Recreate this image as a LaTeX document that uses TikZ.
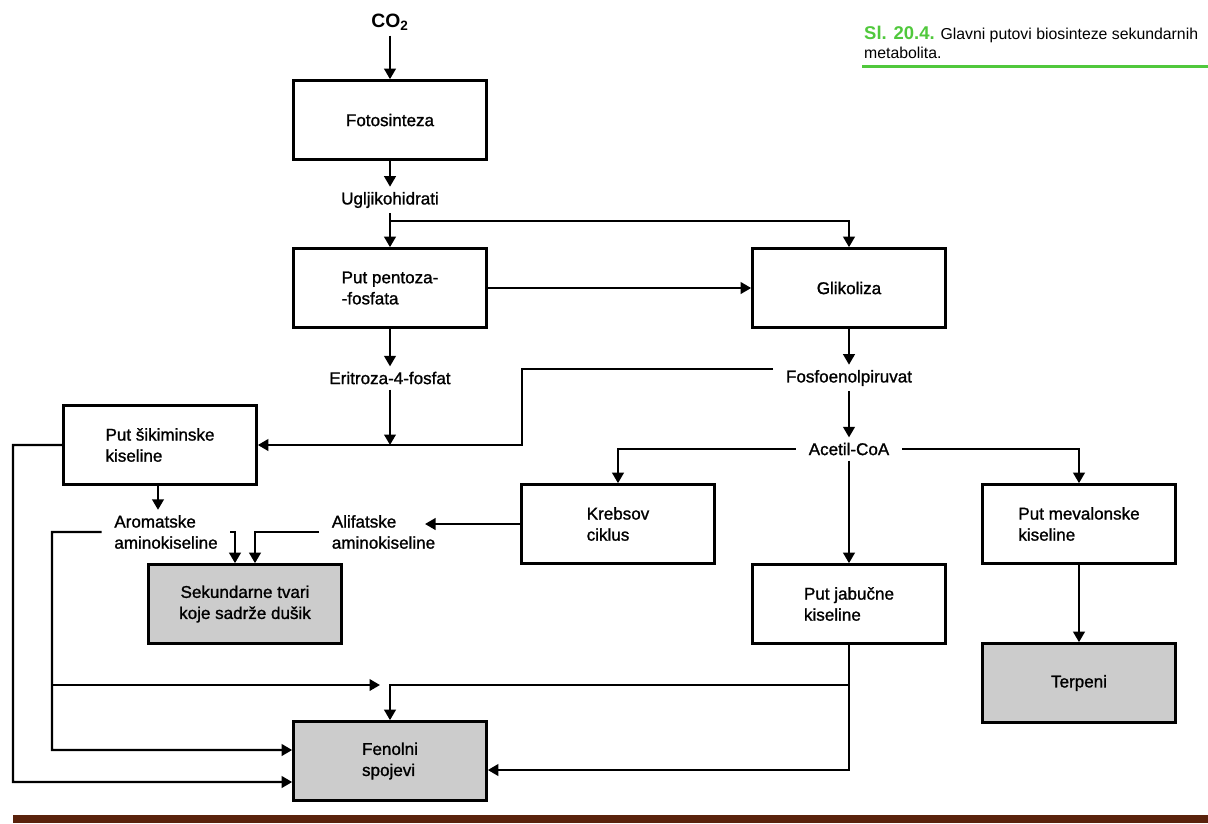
\documentclass[tikz,border=0pt]{standalone}
\usepackage{fontspec}
\setmainfont{Liberation Sans}
\usetikzlibrary{arrows.meta}
\definecolor{capgreen}{RGB}{80,200,60}
\definecolor{barbrown}{RGB}{90,34,12}
\definecolor{boxgray}{RGB}{204,204,204}

\begin{document}
\begin{tikzpicture}[x = 0.2mm, y = -0.2mm,
                    every node/.style = {font = \fontsize{9.7}{12}\selectfont\addfontfeature{FakeBold = 1.2}},
                    box/.style = {draw, line width = 1.5pt, minimum width = 38.6mm, minimum height = 15.8mm, align = left, inner sep = 0pt},
                    endbox/.style = {box, fill = boxgray},
                    lbl/.style = {inner xsep = 2.5mm, inner ysep = 1mm, align = left},
                    ln/.style = {line width = 1.3pt},
                    arr/.style = {ln, -{Triangle[length = 2.1mm, width = 2.3mm]}}]
                          \useasboundingbox (0,0) rectangle (1208,823);
                          % caption
                          \node (cap)[anchor = north west, align = left, font = \fontsize{9}{11}\selectfont] at (858,20) {{\color{capgreen}\fontsize{10.5}{11}\selectfont\bfseries Sl. 20.4.} Glavni putovi biosinteze sekundarnih\\metabolita.};
                          \draw [capgreen, line width = 0.6mm](862,66)--(1208,66);
                          \fill [barbrown](13,815) rectangle (1208,823);
                          % boxes
                          \node (foto)[box] at (390,120) {Fotosinteza};
                          \node (pent)[box] at (390,288) {Put pentoza-\\-fosfata};
                          \node (glik)[box] at (849,288) {Glikoliza};
                          \node (sik)[box] at (160,445) {Put šikiminske\\kiseline};
                          \node (krebs)[box] at (618,524) {Krebsov\\ciklus};
                          \node (mev)[box] at (1079,524) {Put mevalonske\\kiseline};
                          \node (sek)[endbox, align = center] at (245,604) {Sekundarne tvari\\koje sadrže dušik};
                          \node (jab)[box] at (849,604) {Put jabučne\\kiseline};
                          \node (terp)[endbox] at (1079,683) {Terpeni};
                          \node (fen)[endbox] at (390,761) {Fenolni\\spojevi};
                          % labels
                          \node (co2)[lbl, font = \fontsize{11}{12}\selectfont\bfseries] at (390,22) {CO\textsubscript{2}};
                          \node (uglj)[lbl] at (390,200) {Ugljikohidrati};
                          \node (eri)[lbl] at (390,378) {Eritroza-4-fosfat};
                          \node (fosf)[lbl] at (849,378) {Fosfoenolpiruvat};
                          \node (acet)[lbl] at (849,449) {Acetil-CoA};
                          \node (arom)[lbl] at (166,532) {Aromatske\\aminokiseline};
                          \node (alif)[lbl] at (383.5,532) {Alifatske\\aminokiseline};
                          \coordinate (ugljB) at (390,221);
                          \coordinate (fosfK) at (522,445);
                          \coordinate (alifT) at (425,524);
                          \coordinate (aromL) at (52,750);
                          \coordinate (sikL) at (13,782);
                          \coordinate (freeEnd) at (380,685);
                          % connectors
                          \draw [arr](co2)--(foto);
                          \draw [arr](foto)--(uglj);
                          \draw [ln](uglj.south)--(ugljB);
                          \draw [arr](ugljB)--(pent.north);
                          \draw [arr](ugljB)-|(glik.north);
                          \draw [arr](pent)--(glik);
                          \draw [arr](pent)--(eri);
                          \draw [arr](glik)--(fosf);
                          \draw [arr](fosf)--(acet);
                          \draw [arr](eri.south)--(eri.south |- sik.east);
                          \draw [arr]([yshift = 1.8mm]fosf.west)-|(fosfK)--(sik.east);
                          \draw [arr](acet.west)-|(krebs.north);
                          \draw [arr](acet.east)-|(mev.north);
                          \draw [arr](acet)--(jab);
                          \draw [arr](mev)--(terp);
                          \draw [arr](krebs.west)--(alifT);
                          \draw [arr]([xshift = -0.4mm]sik.south)--([xshift = -0.4mm]sik.south |- arom.north);
                          \draw [arr](alif.west)-|([xshift = 2mm]sek.north);
                          \draw [arr](arom.east)-|([xshift = -2mm]sek.north);
                          \draw [arr](arom.west)-|(aromL)--([yshift = 2.2mm]fen.west);
                          \draw [arr](aromL |- freeEnd)--(freeEnd);
                          \draw [arr](sik.west)-|(sikL)--([yshift = -4.2mm]fen.west);
                          \draw [arr](jab.south)|-([yshift = -1.8mm]fen.east);
                          \draw [arr](jab.south |- freeEnd)-|(fen.north);
                        \end{tikzpicture}
\end{document}
